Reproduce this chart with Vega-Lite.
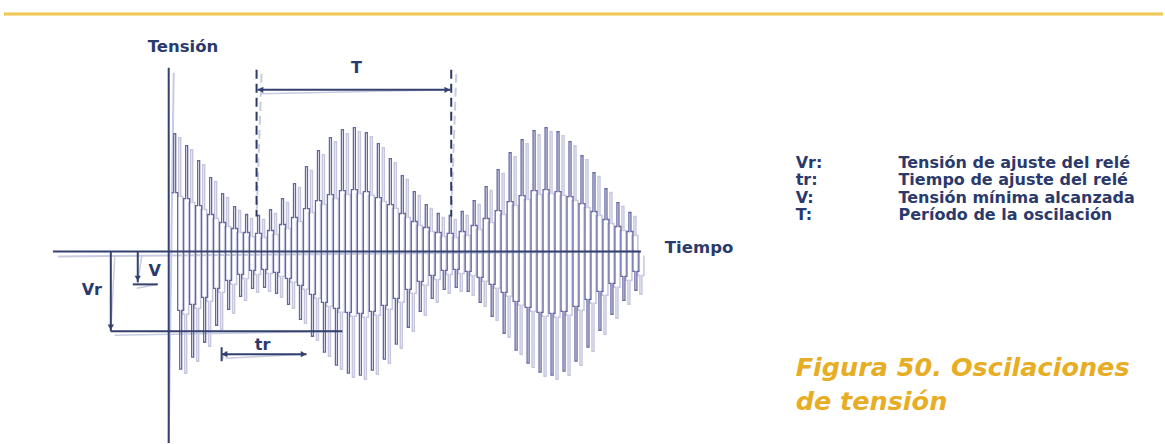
{
  "$schema": "https://vega.github.io/schema/vega-lite/v6.json",
  "width": 1165,
  "height": 444,
  "autosize": {"type": "fit", "contains": "padding"},
  "padding": 0,
  "background": "#ffffff",
  "config": {"view": {"stroke": null}},
  "datasets": {
    "topline": [{"t": -165, "t2": 996, "v": 238}],
    "axes": [
      {"t": 0, "v": 184, "t2": 0, "v2": -192},
      {"t": -116, "v": 0, "t2": 473, "v2": 0}
    ],
    "dashes": [
      {"t": 88, "v": 182, "t2": 88, "v2": 35},
      {"t": 283, "v": 182, "t2": 283, "v2": 35}
    ],
    "dims": [
      {"t": 89, "v": 162, "t2": 282, "v2": 162},
      {"t": -58, "v": 0, "t2": -58, "v2": -80},
      {"t": -58, "v": -80, "t2": 174, "v2": -80},
      {"t": -31, "v": 0, "t2": -31, "v2": -31},
      {"t": -36, "v": -33, "t2": -11, "v2": -33},
      {"t": 53, "v": -103, "t2": 138, "v2": -103},
      {"t": 53, "v": -96, "t2": 53, "v2": -110}
    ],
    "heads": [
      {"t": 92, "v": 162, "dir": "left"},
      {"t": 279, "v": 162, "dir": "right"},
      {"t": -58, "v": -76, "dir": "down"},
      {"t": -31, "v": -27, "dir": "down"},
      {"t": 56, "v": -103, "dir": "left"},
      {"t": 135, "v": -103, "dir": "right"}
    ],
    "labels": [
      {"g": "axis", "t": -21, "v": 205, "text": "Tensión"},
      {"g": "axis", "t": 497, "v": 3, "text": "Tiempo"},
      {"g": "dim", "t": 188, "v": 184, "text": "T"},
      {"g": "dim", "t": -77, "v": -39, "text": "Vr"},
      {"g": "dim", "t": -14, "v": -20, "text": "V"},
      {"g": "dim", "t": 94, "v": -94, "text": "tr"},
      {"g": "key", "t": 628, "v": 89, "text": "Vr:"},
      {"g": "key", "t": 628, "v": 71.5, "text": "tr:"},
      {"g": "key", "t": 628, "v": 54, "text": "V:"},
      {"g": "key", "t": 628, "v": 36.5, "text": "T:"},
      {"g": "desc", "t": 731, "v": 89, "text": "Tensión de ajuste del relé"},
      {"g": "desc", "t": 731, "v": 71.5, "text": "Tiempo de ajuste del relé"},
      {"g": "desc", "t": 731, "v": 54, "text": "Tensión mínima alcanzada"},
      {"g": "desc", "t": 731, "v": 36.5, "text": "Período de la oscilación"},
      {"g": "title", "t": 628, "v": -117, "text": "Figura 50. Oscilaciones"},
      {"g": "title", "t": 628, "v": -151, "text": "de tensión"}
    ],
    "wave": [
      {"t":3,"v":59},{"t":5,"v":118},{"t":7,"v":59},{"t":9,"v":-59},{"t":11,"v":-118},{"t":13,"v":-59},
      {"t":15,"v":53},{"t":17,"v":106},{"t":19,"v":53},{"t":21,"v":-53},{"t":23,"v":-106},{"t":25,"v":-53},
      {"t":27,"v":46},{"t":29,"v":91},{"t":31,"v":46},{"t":33,"v":-46},{"t":35,"v":-91},{"t":37,"v":-46},
      {"t":39,"v":37},{"t":41,"v":74},{"t":43,"v":37},{"t":45,"v":-37},{"t":47,"v":-74},{"t":49,"v":-37},
      {"t":51,"v":29},{"t":53,"v":58},{"t":55,"v":29},{"t":57,"v":-29},{"t":59,"v":-58},{"t":61,"v":-29},
      {"t":63,"v":23},{"t":65,"v":45},{"t":67,"v":23},{"t":69,"v":-23},{"t":71,"v":-45},{"t":73,"v":-23},
      {"t":75,"v":19},{"t":77,"v":37},{"t":79,"v":19},{"t":81,"v":-19},{"t":83,"v":-37},{"t":85,"v":-19},
      {"t":87,"v":18},{"t":89,"v":36},{"t":91,"v":18},{"t":93,"v":-18},{"t":95,"v":-36},{"t":97,"v":-18},
      {"t":99,"v":21},{"t":101,"v":42},{"t":103,"v":21},{"t":105,"v":-21},{"t":107,"v":-42},{"t":109,"v":-21},
      {"t":111,"v":27},{"t":113,"v":53},{"t":115,"v":27},{"t":117,"v":-27},{"t":119,"v":-53},{"t":121,"v":-27},
      {"t":123,"v":34},{"t":125,"v":68},{"t":127,"v":34},{"t":129,"v":-34},{"t":131,"v":-68},{"t":133,"v":-34},
      {"t":135,"v":43},{"t":137,"v":85},{"t":139,"v":43},{"t":141,"v":-43},{"t":143,"v":-85},{"t":145,"v":-43},
      {"t":147,"v":51},{"t":149,"v":101},{"t":151,"v":51},{"t":153,"v":-51},{"t":155,"v":-101},{"t":157,"v":-51},
      {"t":159,"v":57},{"t":161,"v":114},{"t":163,"v":57},{"t":165,"v":-57},{"t":167,"v":-114},{"t":169,"v":-57},
      {"t":171,"v":61},{"t":173,"v":122},{"t":175,"v":61},{"t":177,"v":-61},{"t":179,"v":-122},{"t":181,"v":-61},
      {"t":183,"v":62},{"t":185,"v":124},{"t":187,"v":62},{"t":189,"v":-62},{"t":191,"v":-124},{"t":193,"v":-62},
      {"t":195,"v":60},{"t":197,"v":119},{"t":199,"v":60},{"t":201,"v":-60},{"t":203,"v":-119},{"t":205,"v":-60},
      {"t":207,"v":54},{"t":209,"v":108},{"t":211,"v":54},{"t":213,"v":-54},{"t":215,"v":-108},{"t":217,"v":-54},
      {"t":219,"v":47},{"t":221,"v":93},{"t":223,"v":47},{"t":225,"v":-47},{"t":227,"v":-93},{"t":229,"v":-47},
      {"t":231,"v":38},{"t":233,"v":76},{"t":235,"v":38},{"t":237,"v":-38},{"t":239,"v":-76},{"t":241,"v":-38},
      {"t":243,"v":30},{"t":245,"v":60},{"t":247,"v":30},{"t":249,"v":-30},{"t":251,"v":-60},{"t":253,"v":-30},
      {"t":255,"v":24},{"t":257,"v":47},{"t":259,"v":24},{"t":261,"v":-24},{"t":263,"v":-47},{"t":265,"v":-24},
      {"t":267,"v":19},{"t":269,"v":38},{"t":271,"v":19},{"t":273,"v":-19},{"t":275,"v":-38},{"t":277,"v":-19},
      {"t":279,"v":18},{"t":281,"v":36},{"t":283,"v":18},{"t":285,"v":-18},{"t":287,"v":-36},{"t":289,"v":-18},
      {"t":291,"v":20},{"t":293,"v":40},{"t":295,"v":20},{"t":297,"v":-20},{"t":299,"v":-40},{"t":301,"v":-20},
      {"t":303,"v":26},{"t":305,"v":51},{"t":307,"v":26},{"t":309,"v":-26},{"t":311,"v":-51},{"t":313,"v":-26},
      {"t":315,"v":33},{"t":317,"v":65},{"t":319,"v":33},{"t":321,"v":-33},{"t":323,"v":-65},{"t":325,"v":-33},
      {"t":327,"v":41},{"t":329,"v":82},{"t":331,"v":41},{"t":333,"v":-41},{"t":335,"v":-82},{"t":337,"v":-41},
      {"t":339,"v":50},{"t":341,"v":99},{"t":343,"v":50},{"t":345,"v":-50},{"t":347,"v":-99},{"t":349,"v":-50},
      {"t":351,"v":56},{"t":353,"v":112},{"t":355,"v":56},{"t":357,"v":-56},{"t":359,"v":-112},{"t":361,"v":-56},
      {"t":363,"v":61},{"t":365,"v":121},{"t":367,"v":61},{"t":369,"v":-61},{"t":371,"v":-121},{"t":373,"v":-61},
      {"t":375,"v":62},{"t":377,"v":124},{"t":379,"v":62},{"t":381,"v":-62},{"t":383,"v":-124},{"t":385,"v":-62},
      {"t":387,"v":60},{"t":389,"v":120},{"t":391,"v":60},{"t":393,"v":-60},{"t":395,"v":-120},{"t":397,"v":-60},
      {"t":399,"v":55},{"t":401,"v":110},{"t":403,"v":55},{"t":405,"v":-55},{"t":407,"v":-110},{"t":409,"v":-55},
      {"t":411,"v":48},{"t":413,"v":96},{"t":415,"v":48},{"t":417,"v":-48},{"t":419,"v":-96},{"t":421,"v":-48},
      {"t":423,"v":40},{"t":425,"v":79},{"t":427,"v":40},{"t":429,"v":-40},{"t":431,"v":-79},{"t":433,"v":-40},
      {"t":435,"v":32},{"t":437,"v":63},{"t":439,"v":32},{"t":441,"v":-32},{"t":443,"v":-63},{"t":445,"v":-32},
      {"t":447,"v":25},{"t":449,"v":49},{"t":451,"v":25},{"t":453,"v":-25},{"t":455,"v":-49},{"t":457,"v":-25},
      {"t":459,"v":20},{"t":461,"v":39},{"t":463,"v":20},{"t":465,"v":-20},{"t":467,"v":-39},{"t":469,"v":-20},
      {"t":471,"v":0}
    ]
  },
  "encoding": {
    "x": {"field": "t", "type": "quantitative", "scale": {"domain": [-169, 996], "nice": false, "zero": false}, "axis": null},
    "y": {"field": "v", "type": "quantitative", "scale": {"domain": [-192, 252], "nice": false, "zero": false}, "axis": null}
  },
  "layer": [
    {
      "data": {"name": "topline"},
      "mark": {"type": "rule", "color": "#f0c64e", "strokeWidth": 3},
      "encoding": {"x2": {"field": "t2"}}
    },
    {
      "data": {"name": "wave"},
      "mark": {"type": "line", "interpolate": "step-after", "color": "#c6c7df", "strokeWidth": 1.5, "xOffset": 5, "yOffset": 4},
      "encoding": {"order": {"field": "t", "type": "quantitative"}}
    },
    {
      "data": {"name": "axes"},
      "mark": {"type": "rule", "color": "#c9cbe0", "strokeWidth": 2, "xOffset": 5, "yOffset": 5},
      "encoding": {"x2": {"field": "t2"}, "y2": {"field": "v2"}}
    },
    {
      "data": {"name": "dashes"},
      "mark": {"type": "rule", "color": "#c9cbe0", "strokeWidth": 2, "strokeDash": [9, 5], "xOffset": 5, "yOffset": 4},
      "encoding": {"x2": {"field": "t2"}, "y2": {"field": "v2"}}
    },
    {
      "data": {"name": "dims"},
      "mark": {"type": "rule", "color": "#c9cbe0", "strokeWidth": 1.5, "xOffset": 4, "yOffset": 4},
      "encoding": {"x2": {"field": "t2"}, "y2": {"field": "v2"}}
    },
    {
      "data": {"name": "wave"},
      "mark": {"type": "line", "interpolate": "step-after", "color": "#6367a1", "strokeWidth": 1.3},
      "encoding": {"order": {"field": "t", "type": "quantitative"}}
    },
    {
      "data": {"name": "axes"},
      "mark": {"type": "rule", "color": "#34416f", "strokeWidth": 2},
      "encoding": {"x2": {"field": "t2"}, "y2": {"field": "v2"}}
    },
    {
      "data": {"name": "dashes"},
      "mark": {"type": "rule", "color": "#2c3a68", "strokeWidth": 2, "strokeDash": [9, 5]},
      "encoding": {"x2": {"field": "t2"}, "y2": {"field": "v2"}}
    },
    {
      "data": {"name": "dims"},
      "mark": {"type": "rule", "color": "#34416f", "strokeWidth": 2},
      "encoding": {"x2": {"field": "t2"}, "y2": {"field": "v2"}}
    },
    {
      "data": {"name": "heads"},
      "mark": {"type": "point", "filled": true, "color": "#34416f", "size": 40, "opacity": 1},
      "encoding": {
        "shape": {"field": "dir", "type": "nominal", "scale": {"domain": ["left", "right", "down"], "range": ["triangle-left", "triangle-right", "triangle-down"]}, "legend": null}
      }
    },
    {
      "data": {"name": "labels"},
      "transform": [{"filter": "datum.g === 'axis'"}],
      "mark": {"type": "text", "align": "left", "baseline": "middle", "font": "DejaVu Sans", "fontWeight": "bold", "fontSize": 16.5, "color": "#2b3a6b"},
      "encoding": {"text": {"field": "text"}}
    },
    {
      "data": {"name": "labels"},
      "transform": [{"filter": "datum.g === 'dim'"}],
      "mark": {"type": "text", "align": "center", "baseline": "middle", "font": "DejaVu Sans", "fontWeight": "bold", "fontSize": 16, "color": "#2b3a6b"},
      "encoding": {"text": {"field": "text"}}
    },
    {
      "data": {"name": "labels"},
      "transform": [{"filter": "datum.g === 'key' || datum.g === 'desc'"}],
      "mark": {"type": "text", "align": "left", "baseline": "middle", "font": "DejaVu Sans", "fontWeight": "bold", "fontSize": 16, "color": "#2b3a6b"},
      "encoding": {"text": {"field": "text"}}
    },
    {
      "data": {"name": "labels"},
      "transform": [{"filter": "datum.g === 'title'"}],
      "mark": {"type": "text", "align": "left", "baseline": "middle", "font": "DejaVu Sans", "fontWeight": "bold", "fontStyle": "italic", "fontSize": 25.5, "color": "#e6ad25"},
      "encoding": {"text": {"field": "text"}}
    }
  ]
}
